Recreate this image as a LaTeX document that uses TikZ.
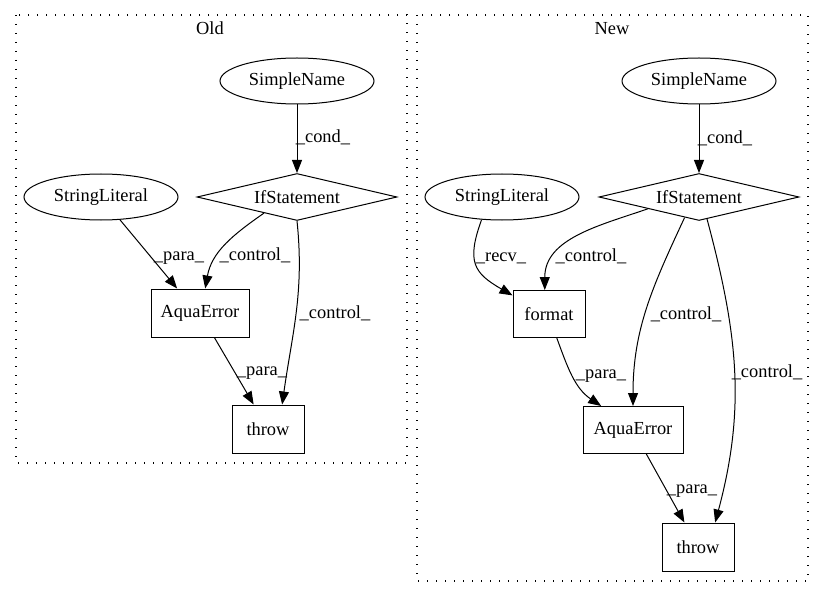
\documentclass[tikz,border=0pt]{standalone}
\usepackage{fontspec}
\setmainfont{Liberation Serif}
\usetikzlibrary{shapes.geometric,arrows.meta}
\begin{document}
\begin{tikzpicture}[x=1pt,y=1pt,
  every node/.style={font=\fontsize{18.4}{20}\selectfont},
  ell/.style={draw, ellipse, line width=1pt, minimum width=154pt, minimum height=46pt, inner sep=0pt},
  dia/.style={draw, diamond, aspect=4.2, line width=1pt, minimum width=200pt, minimum height=47pt, inner sep=0pt},
  box/.style={draw, rectangle, line width=1pt, minimum height=48pt, inner sep=0pt},
  edge/.style={line width=1pt, -{Triangle[length=13pt,width=10pt]}},
  lbl/.style={anchor=base, inner sep=0pt},
  cluster/.style={draw, line width=1.1pt, dash pattern=on 1.2pt off 7.8pt}
]
\useasboundingbox (0,0) rectangle (824,-596);
% clusters
\draw[cluster] (16,-15) rectangle (407,-463);
\draw[cluster] (417,-15) rectangle (808,-581);
\node[lbl] (toldt) at (210,-35) {Old};
\node[lbl] (tnewt) at (612,-35) {New};

% Old nodes
\node[ell] (osn) at (297,-81) {SimpleName};
\node[dia] (oif) at (297,-197) {IfStatement};
\node[ell] (osl) at (101,-197) {StringLiteral};
\node[box, minimum width=98pt] (oaq) at (200,-313) {AquaError};
\node[box, minimum width=72pt] (oth) at (268,-429) {throw};

% New nodes
\node[ell] (nsn) at (699,-81) {SimpleName};
\node[dia] (nif) at (699,-197) {IfStatement};
\node[ell] (nsl) at (502,-197) {StringLiteral};
\node[box, minimum width=72pt, minimum height=47pt] (nfm) at (549,-314) {format};
\node[box, minimum width=100pt, minimum height=47pt] (naq) at (633,-430) {AquaError};
\node[box, minimum width=72pt] (nth) at (698,-547) {throw};

% Old edges
\draw[edge] (osn) -- (oif);
\draw[edge] (osl) -- (oaq.133);
\draw[edge] (oif.206) to[out=215,in=80] (oaq.78);
\draw[edge] (oif.south) to[out=-84,in=82] (oth.60);
\draw[edge] (oaq) -- (oth);

\node[lbl] (l1) at (323,-143) {\_cond\_};
\node[lbl] (l2) at (179,-260) {\_para\_};
\node[lbl] (l3) at (255,-260) {\_control\_};
\node[lbl] (l4) at (335,-318) {\_control\_};
\node[lbl] (l5) at (262,-375) {\_para\_};

% New edges
\draw[edge] (nsn) -- (nif);
\draw[edge] (nsl.228) to[out=250,in=150,looseness=1.4] (nfm.153);
\draw[edge] (nif.193) to[out=199,in=90] (nfm.100);
\draw[edge] (nif.235) to[out=245,in=90] (naq.north);
\draw[edge] (nif.-70) to[out=-75,in=75] (nth.55);
\draw[edge] (nfm.-72) to[out=-70,in=146] (naq.143);
\draw[edge] (naq) -- (nth);

\node[lbl] (m1) at (725,-144) {\_cond\_};
\node[lbl] (m2) at (501,-261) {\_recv\_};
\node[lbl] (m3) at (591,-261) {\_control\_};
\node[lbl] (m4) at (686,-319) {\_control\_};
\node[lbl] (m5) at (767,-377) {\_control\_};
\node[lbl] (m6) at (601,-378) {\_para\_};
\node[lbl] (m7) at (692,-493) {\_para\_};
\end{tikzpicture}
\end{document}
